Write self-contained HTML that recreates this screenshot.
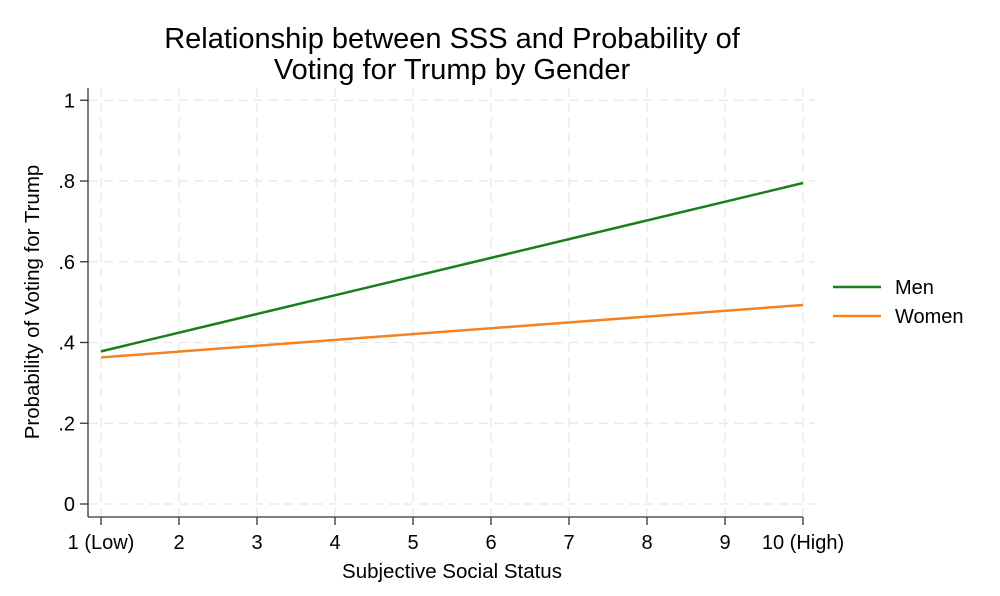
<!DOCTYPE html>
<html><head><meta charset="utf-8"><style>
html,body{margin:0;padding:0;background:#fff;}
svg{display:block;font-family:"Liberation Sans",Arial,sans-serif;}
</style></head><body>
<svg id="chart" width="1000" height="596" viewBox="0 0 1000 596">
<text x="452" y="48" text-anchor="middle" font-size="29" fill="#000">Relationship between SSS and Probability of</text>
<text x="452" y="79" text-anchor="middle" font-size="29" fill="#000">Voting for Trump by Gender</text>
<g id="grid"></g>
<g id="axes"></g>
<g id="series"></g>
<text transform="translate(39,302) rotate(-90)" text-anchor="middle" font-size="20.5" fill="#000">Probability of Voting for Trump</text>
<text x="452" y="578" text-anchor="middle" font-size="20.5" fill="#000">Subjective Social Status</text>
<g>
<line x1="833" y1="287" x2="881" y2="287" stroke="#1a7f1a" stroke-width="2.5"/>
<text x="895" y="294" font-size="20">Men</text>
<line x1="833" y1="316" x2="881" y2="316" stroke="#f58220" stroke-width="2.5"/>
<text x="895" y="323" font-size="20">Women</text>
</g>
</svg>
<script>
const xCategories=[1,2,3,4,5,6,7,8,9,10];
const xTickLabels=["1 (Low)","2","3","4","5","6","7","8","9","10 (High)"];
const yTicks=[0,0.2,0.4,0.6,0.8,1];
const yTickLabels=["0",".2",".4",".6",".8","1"];
const menX=[1,10];
const menValues=[0.378,0.795];
const womenX=[1,10];
const womenValues=[0.363,0.493];
const NS="http://www.w3.org/2000/svg";
const xs=v=>101+(v-1)*78;
const ys=v=>504-v*403.75;
function mk(tag,attrs,parent){const e=document.createElementNS(NS,tag);for(const k in attrs)e.setAttribute(k,attrs[k]);parent.appendChild(e);return e;}
const grid=document.getElementById('grid'),axes=document.getElementById('axes'),series=document.getElementById('series');
yTicks.forEach((t,i)=>{
 const g=mk('line',{x1:89,x2:815,y1:ys(t),y2:ys(t),stroke:'#e6e6e6','stroke-width':1.3,'stroke-dasharray':'9 6'},grid);
 
 
 const tk=mk('line',{x1:80,x2:88,y1:ys(t),y2:ys(t),stroke:'#333','stroke-width':1.3},axes);
 
 
 const tx=mk('text',{x:75,y:ys(t)+7,'text-anchor':'end','font-size':20},axes);
 tx.textContent=yTickLabels[i];
 
 
});
xCategories.forEach((c,i)=>{
 const g=mk('line',{x1:xs(c),x2:xs(c),y1:88,y2:516,stroke:'#e6e6e6','stroke-width':1.3,'stroke-dasharray':'9 6'},grid);
 
 
 const tk=mk('line',{x1:xs(c),x2:xs(c),y1:517,y2:525,stroke:'#333','stroke-width':1.3},axes);
 
 
 const tx=mk('text',{x:xs(c),y:549,'text-anchor':'middle','font-size':20},axes);
 tx.textContent=xTickLabels[i];
 
 
});
const ya=mk('line',{x1:88,x2:88,y1:88,y2:517,stroke:'#333','stroke-width':1.3},axes);


const xa=mk('line',{x1:88,x2:803,y1:517,y2:517,stroke:'#333','stroke-width':1.3},axes);


function line(xv,yv,color,name){
 const pts=xv.map((x,i)=>xs(x)+','+ys(yv[i])).join(' ');
 const p=mk('polyline',{points:pts,fill:'none',stroke:color,'stroke-width':2.5},series);
 
 
}
line(menX,menValues,'#1a7f1a','line-men');
line(womenX,womenValues,'#f58220','line-women');
</script>
</body></html>
